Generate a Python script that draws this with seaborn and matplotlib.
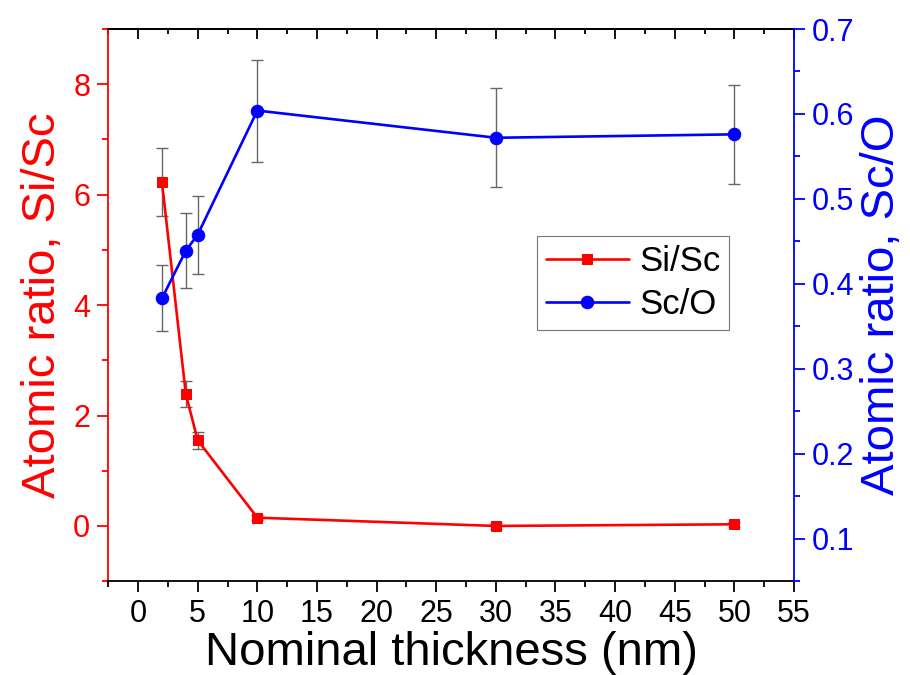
import numpy as np
import pandas as pd
import matplotlib
matplotlib.use("Agg")
import matplotlib.pyplot as plt
import seaborn as sns
from matplotlib.ticker import MultipleLocator, NullFormatter

# ---- data ----
thickness = [2, 4, 5, 10, 30, 50]
si_sc = [6.23, 2.39, 1.55, 0.15, 0.0, 0.03]
si_sc_err = [0.62, 0.24, 0.15, 0.05, 0.05, 0.05]
sc_o = [0.383, 0.439, 0.458, 0.604, 0.572, 0.576]
sc_o_err = [0.039, 0.044, 0.046, 0.060, 0.058, 0.058]

x_label = "Nominal thickness (nm)"
y1_label = "Atomic ratio, Si/Sc"
y2_label = "Atomic ratio, Sc/O"
names = ["Si/Sc", "Sc/O"]

sns.set_style("ticks")
plt.rcParams["font.family"] = ["Liberation Sans", "DejaVu Sans"]

RED = "#ff0000"
BLUE = "#0000ff"
GRAY = "#666666"

df = pd.DataFrame({"x": thickness, "a": si_sc, "b": sc_o})

fig = plt.figure(figsize=(9.1, 6.75), dpi=100)
ax = fig.add_axes([0.119, 0.139, 0.8725 - 0.119, 0.957 - 0.139])
ax2 = ax.twinx()

# error bars
ax.errorbar(thickness, si_sc, yerr=si_sc_err, fmt="none", ecolor=GRAY,
            elinewidth=1.0, capsize=4, capthick=1.0, zorder=1)
ax2.errorbar(thickness, sc_o, yerr=sc_o_err, fmt="none", ecolor=GRAY,
             elinewidth=1.0, capsize=4, capthick=1.0, zorder=1)

sns.lineplot(data=df, x="x", y="a", ax=ax, color=RED, marker="s",
             markersize=7.5, markeredgecolor=RED, markerfacecolor=RED,
             linewidth=1.9, label=names[0], legend=False, zorder=3)
sns.lineplot(data=df, x="x", y="b", ax=ax2, color=BLUE, marker="o",
             markersize=9, markeredgecolor=BLUE, markerfacecolor=BLUE,
             linewidth=1.9, label=names[1], legend=False, zorder=3)

ax.set_xlim(-2.5, 55)
ax.set_ylim(-1, 9)
ax2.set_ylim(0.05, 0.7)

ax.xaxis.set_major_locator(MultipleLocator(5))
ax.xaxis.set_minor_locator(MultipleLocator(2.5))
ax.yaxis.set_major_locator(MultipleLocator(2))
ax.yaxis.set_minor_locator(MultipleLocator(1))
ax2.yaxis.set_major_locator(MultipleLocator(0.1))
ax2.yaxis.set_minor_locator(MultipleLocator(0.05))

fs_tick = 22
fs_lab = 34

ax.tick_params(axis="x", which="major", direction="out", length=8, width=1.3,
               colors="black", labelsize=fs_tick, pad=5)
ax.tick_params(axis="x", which="minor", direction="out", length=4, width=1.3, colors="black")
ax.tick_params(axis="y", which="major", direction="out", length=8, width=1.3,
               colors=RED, labelsize=fs_tick, pad=5, right=False)
ax.tick_params(axis="y", which="minor", direction="out", length=4, width=1.3, colors=RED, right=False)
ax2.tick_params(axis="y", which="major", direction="out", length=8, width=1.3,
                colors=BLUE, labelsize=fs_tick, pad=5)
ax2.tick_params(axis="y", which="minor", direction="out", length=4, width=1.3, colors=BLUE)

# top axis with inward ticks
top = ax.secondary_xaxis("top")
top.xaxis.set_major_locator(MultipleLocator(5))
top.xaxis.set_minor_locator(MultipleLocator(2.5))
top.xaxis.set_major_formatter(NullFormatter())
top.tick_params(axis="x", which="major", direction="in", length=7, width=1.3, colors="black")
top.tick_params(axis="x", which="minor", direction="in", length=3.5, width=1.3, colors="black")
top.spines["top"].set_linewidth(1.3)
top.spines["top"].set_color("black")

for s in ["top", "bottom", "left", "right"]:
    ax.spines[s].set_linewidth(1.3)
    ax2.spines[s].set_linewidth(1.3)
ax.spines["left"].set_color(RED)
ax.spines["bottom"].set_color("black")
ax.spines["top"].set_color("black")
ax2.spines["right"].set_color(BLUE)
ax2.spines["left"].set_visible(False)
ax2.spines["top"].set_visible(False)
ax2.spines["bottom"].set_visible(False)
ax.spines["right"].set_visible(False)

ax.set_xlabel(x_label, fontsize=fs_lab, color="black", labelpad=1)
ax.set_ylabel(y1_label, fontsize=fs_lab, color=RED, labelpad=6)
ax2.set_ylabel(y2_label, fontsize=fs_lab, color=BLUE, labelpad=4)

h1, l1 = ax.get_legend_handles_labels()
h2, l2 = ax2.get_legend_handles_labels()
leg = ax2.legend(h1 + h2, l1 + l2, loc="upper left", bbox_to_anchor=(0.625, 0.625),
                 fontsize=25, frameon=True, fancybox=False, framealpha=1,
                 edgecolor="#777777", handlelength=2.4, handletextpad=0.3,
                 borderpad=0.25, labelspacing=0.3, borderaxespad=0,
                 labelcolor="black")
leg.get_frame().set_linewidth(0.8)

fig.savefig("out.png", dpi=100)
